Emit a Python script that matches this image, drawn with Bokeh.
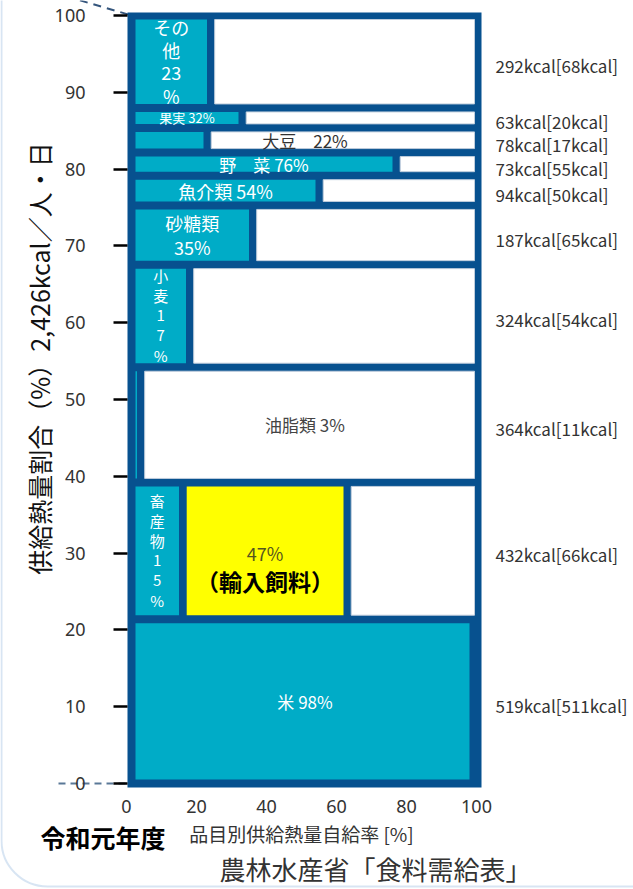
import math
from bokeh.plotting import figure
from bokeh.models import Range1d, LinearAxis, FixedTicker, BoxAnnotation, Label, ColumnDataSource
from bokeh.core.properties import value
from bokeh.embed import file_html
from bokeh.resources import INLINE

# ---------------- data (bottom row first) ----------------
categories = ["米", "畜産物", "油脂類", "小麦", "砂糖類", "魚介類", "野菜", "大豆", "果実", "その他"]
supply_kcal = [519, 432, 364, 324, 187, 94, 73, 78, 63, 292]
domestic_kcal = [511, 66, 11, 54, 65, 50, 55, 17, 20, 68]
self_rate = [98, 15, 3, 17, 35, 54, 76, 22, 32, 23]
feed_rate = [0, 47, 0, 0, 0, 0, 0, 0, 0, 0]
total_kcal = 2426
bar_text = ["米 98%", "畜\n産\n物\n1\n5\n%", "油脂類 3%", "小\n麦\n1\n7\n%", "砂糖類\n35%",
            "魚介類 54%", "野　菜 76%", "大豆　22%", "果実 32%", "その\n他\n23\n%"]
x_ticks = [0, 20, 40, 60, 80, 100]
y_ticks = [0, 10, 20, 30, 40, 50, 60, 70, 80, 90, 100]

# ---------------- layout constants ----------------
W, H = 633, 889
PX0, SX = 126.0, 3.5      # pixel of x=0, pixels per unit
PY0, SY = 783.0, 7.68     # pixel of y=0, pixels per unit
def dx(px): return (px - PX0) / SX
def dy(py): return (PY0 - py) / SY

JPF = "Noto Sans CJK JP"
JP = value(JPF)
DARK = "#07518f"
TEAL = "#00acc7"
YELLOW = "#ffff00"

p = figure(width=W, height=H, x_range=Range1d(dx(0), dx(W)), y_range=Range1d(dy(H), dy(0)),
           min_border=0, x_axis_location=None, y_axis_location=None,
           toolbar_location=None, output_backend="svg")
p.outline_line_color = None
p.xgrid.visible = False
p.ygrid.visible = False
p.background_fill_color = "white"
p.border_fill_color = "white"

# rounded outer border
p.add_layout(BoxAnnotation(left=dx(1), right=dx(720), bottom=dy(886), top=dy(-80),
                           fill_color=None, line_color="#7eaad8", line_width=2, border_radius=46))

# dashed callout lines
p.line(x=[dx(66), dx(128)], y=[dy(-4), dy(14)], line_color="#34557c", line_width=2, line_dash="8 6")
p.line(x=[dx(58), dx(127)], y=[0, 0], line_color="#5a7897", line_width=2, line_dash="7 5")

# frame
p.quad(left=[dx(127)], right=[dx(481)], bottom=[dy(787)], top=[dy(12)],
       fill_color=DARK, line_color=None)

bar_left = dx(135)
bar_right = dx(474)
gap_x = 2.2
gap_y = 1.04

cum = [0]
for v in supply_kcal:
    cum.append(cum[-1] + v)
lo = [c / total_kcal * 100 for c in cum[:-1]]
hi = [c / total_kcal * 100 for c in cum[1:]]
bot = [l + gap_y / 2 for l in lo]
top = [h - gap_y / 2 for h in hi]
mid = [(l + h) / 2 for l, h in zip(lo, hi)]

teal = ColumnDataSource(dict(left=[bar_left] * len(categories), right=self_rate, bottom=bot, top=top))
p.quad(left="left", right="right", bottom="bottom", top="top", source=teal,
       fill_color=TEAL, line_color=None)

yl, yr, yb, yt = [], [], [], []
for i, f in enumerate(feed_rate):
    if f > 0:
        yl.append(self_rate[i] + gap_x); yr.append(self_rate[i] + f)
        yb.append(bot[i]); yt.append(top[i])
p.quad(left=yl, right=yr, bottom=yb, top=yt, fill_color=YELLOW, line_color=None)

wl, wb, wt = [], [], []
for i, (s, f) in enumerate(zip(self_rate, feed_rate)):
    left = (s + f if f else s) + gap_x
    if left < bar_right - 0.5:
        wl.append(left); wb.append(bot[i]); wt.append(top[i])
p.quad(left=wl, right=[bar_right] * len(wl), bottom=wb, top=wt,
       fill_color="white", line_color="#bfcddc", line_width=1)

# labels inside bars: (anchor, size px, color, line spacing px)
label_style = [("row", 17, "white", 0), ("teal", 15, "white", 20),
               ("row", 17, "#444444", 0), ("teal", 15, "white", 20),
               ("teal", 18, "white", 24), ("teal", 18, "white", 0),
               ("teal", 17, "white", 0), ("row", 17, "#333333", 0),
               ("teal", 13, "white", 0), ("teal", 18, "white", 23)]
for i, (anchor, size, color, spacing) in enumerate(label_style):
    xc = (bar_left + self_rate[i]) / 2 if anchor == "teal" else (bar_left + bar_right) / 2
    lines = bar_text[i].split("\n")
    n = len(lines)
    for j, line in enumerate(lines):
        p.text(x=[xc], y=[mid[i]], text=[line], text_font=JP, text_font_size=f"{size}px",
               text_color=color, text_align="center", text_baseline="middle",
               y_offset=(j - (n - 1) / 2) * spacing)

for i, f in enumerate(feed_rate):
    if f > 0:
        xc = (self_rate[i] + gap_x + self_rate[i] + f) / 2
        p.text(x=[xc], y=[mid[i]], text=[f"{f}%"], text_font=JP, text_font_size="18px",
               text_color="#55551f", text_align="center", text_baseline="middle", y_offset=2)
        p.text(x=[xc], y=[mid[i]], text=["（輸入飼料）"], text_font=JP, text_font_size="23px",
               text_font_style="bold", text_color="black", text_align="center",
               text_baseline="middle", y_offset=30)

# right-hand kcal labels
rt = [f"{s}kcal[{d}kcal]" for s, d in zip(supply_kcal, domestic_kcal)]
p.text(x=[dx(495)] * len(rt), y=mid, text=rt, text_font=JP, text_font_size="17px",
       text_color="#333333", text_align="left", text_baseline="middle", y_offset=4)

# axes
yaxis = LinearAxis(fixed_location=dx(127), bounds=(0, 100), ticker=FixedTicker(ticks=y_ticks),
                   axis_line_color=None, major_tick_line_color="black", major_tick_line_width=2.5,
                   major_tick_out=14, major_tick_in=0, minor_tick_line_color=None,
                   major_label_standoff=28, major_label_text_font_size="18px",
                   major_label_text_color="#333333", major_label_text_font="Noto Sans")
p.add_layout(yaxis, "left")

xaxis = LinearAxis(fixed_location=dy(787), bounds=(0, 100), ticker=FixedTicker(ticks=x_ticks),
                   axis_line_color=None, major_tick_line_color=None, major_tick_out=0, major_tick_in=0,
                   minor_tick_line_color=None, major_label_standoff=12,
                   major_label_text_font_size="18px", major_label_text_color="#333333",
                   major_label_text_font="Noto Sans",
                   axis_label="品目別供給熱量自給率 [%]", axis_label_standoff=4,
                   axis_label_text_font_size="19px", axis_label_text_font_style="normal",
                   axis_label_text_font=JPF, axis_label_text_color="#333333")
p.add_layout(xaxis, "below")

# y title
p.add_layout(Label(x=dx(38), y=dy(358), text="供給熱量割合（%）2,426kcal／人・日", angle=math.pi / 2,
                   text_font=JPF, text_font_size="25px", text_color="#111111",
                   text_align="center", text_baseline="middle"))

p.add_layout(Label(x=dx(40), y=dy(836), text="令和元年度", text_font=JPF,
                   text_font_size="25px", text_font_style="bold", text_color="black",
                   text_align="left", text_baseline="middle"))
p.add_layout(Label(x=dx(375), y=dy(868), text="農林水産省「食料需給表」", text_font=JPF,
                   text_font_size="26px", text_color="#333333", text_align="center",
                   text_baseline="middle"))

open("out.html", "w").write(file_html(p, INLINE))
